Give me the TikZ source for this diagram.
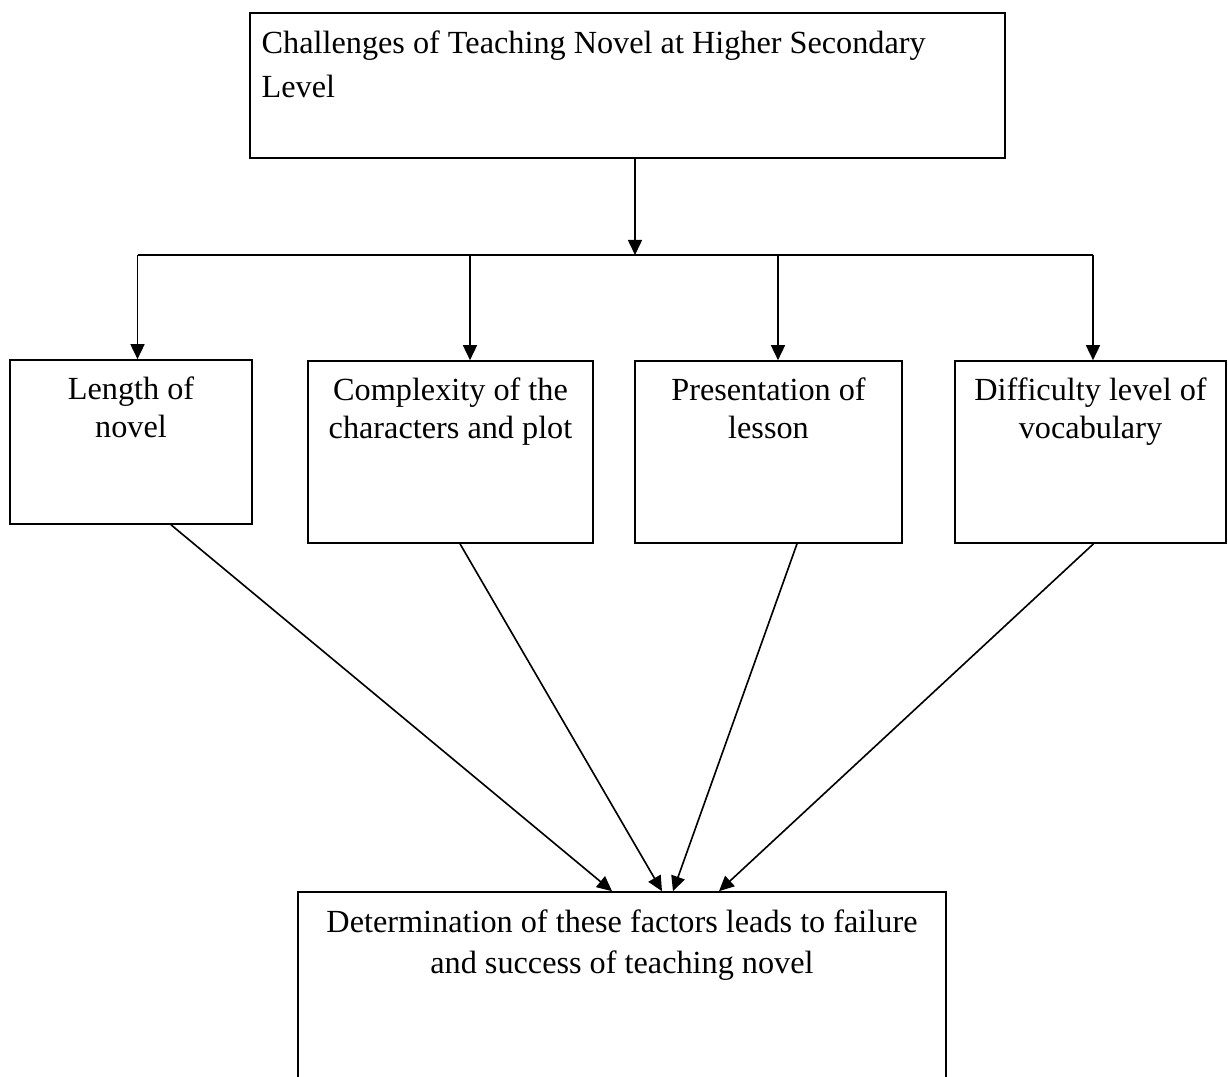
\documentclass[tikz,border=0pt]{standalone}
\usepackage{fontspec}
\setmainfont{Liberation Serif}
\usetikzlibrary{arrows.meta, positioning}

\begin{document}
\begin{tikzpicture}[x=0.4pt, y=-0.4pt,
		box/.style={draw, line width=0.65pt, inner sep=0pt},
		txt/.style={inner sep=0pt, align=center, font=\fontsize{12.9}{15.2}\selectfont},
		arr/.style={-{Triangle[length=6pt,width=5.6pt]}, line width=0.65pt}]
				\useasboundingbox (0,0) rectangle (1228,1077);
				\clip (0,0) rectangle (1228,1077);
				% boxes
				\node[box, minimum width=302pt, minimum height=58pt] (top) at (627.5,85.5){};
				\node[box, minimum width=96.8pt, minimum height=65.6pt] (b1) at (131,442){};
				\node[box, minimum width=114pt, minimum height=72.8pt] (b2) at (450.5,452){};
				\node[box, minimum width=106.8pt, minimum height=72.8pt] (b3) at (768.5,452){};
				\node[box, minimum width=108.4pt, minimum height=72.8pt] (b4) at (1090.5,452){};
				\node[box, minimum width=259.2pt, minimum height=88pt] (b5) at (622,1002){};
				% texts
				\node[txt, align=left, font=\fontsize{12.9}{17.6}\selectfont, anchor=north west, below right=7.2pt and 4.8pt of top.north west] (ttop){Challenges of Teaching Novel at Higher Secondary\\Level};
				\node[txt, below=6.8pt of b1.north] (t1){Length of\\novel};
				\node[txt, below=6.8pt of b2.north] (t2){Complexity of the\\characters and plot};
				\node[txt, below=6.8pt of b3.north] (t3){Presentation of\\lesson};
				\node[txt, below=6.8pt of b4.north] (t4){Difficulty level of\\vocabulary};
				\node[txt, font=\fontsize{12.9}{16.4}\selectfont, below=7.2pt of b5.north] (t5){Determination of these factors leads to failure\\and success of teaching novel};
				% junctions on the bar
				\coordinate (j0) at (635,255);
				\coordinate (j1) at (137.5,255);
				\coordinate (j2) at (470,255);
				\coordinate (j3) at (778,255);
				\coordinate (j4) at (1093,255);
				\draw[arr] (j0 |- top.south) -- (j0);
				\draw[line width=0.65pt] (j1) -- (j4);
				\foreach \i in {1,...,4}
					\draw[arr] (j\i) -- (j\i |- b\i.north);
				% into the last box
				\draw[arr] ([xshift=16pt]b1.south) -- ([xshift=-4pt]b5.north);
				\draw[arr] ([xshift=3.8pt]b2.south) -- ([xshift=16pt]b5.north);
				\draw[arr] ([xshift=11.4pt]b3.south) -- ([xshift=20.4pt]b5.north);
				\draw[arr] ([xshift=1.2pt]b4.south) -- ([xshift=38.8pt]b5.north);
			\end{tikzpicture}
\end{document}
